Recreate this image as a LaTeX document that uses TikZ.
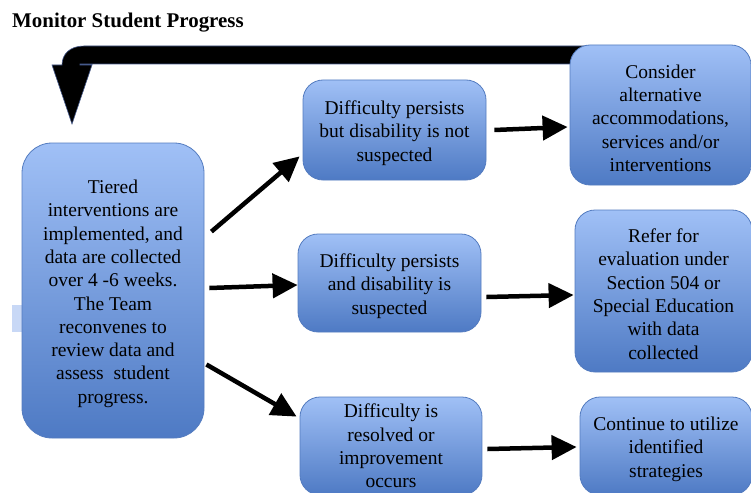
\documentclass[tikz,border=0pt]{standalone}
\usepackage{fontspec}
\setmainfont{Liberation Serif}
\usetikzlibrary{arrows.meta,calc}
\definecolor{boxtop}{RGB}{160,192,246}
\definecolor{boxbot}{RGB}{78,122,196}
\definecolor{boxline}{RGB}{84,124,192}
\definecolor{ghost}{RGB}{200,216,246}
\definecolor{arrline}{RGB}{70,90,140}
\newcommand{\topstrut}{\rule{0pt}{20pt}}
\tikzset{
  stepbox/.style={draw=boxline, line width=0.8pt, rounded corners=20pt,
    top color=boxtop, bottom color=boxbot, align=center,
    inner sep=0pt, text=black,
    font=\fontsize{19.5}{23.3}\selectfont},
  bigbox/.style={stepbox, rounded corners=30pt},
  arr/.style={line width=4.5pt, draw=black,
    -{Triangle[length=25pt,width=24pt]}},
}
\begin{document}
\begin{tikzpicture}[x=1pt,y=-1pt]
\useasboundingbox (0,0) rectangle (751,492);
\clip (0,0) rectangle (751,492);
\fill[white] (0,0) rectangle (751,492);
% title
\node[anchor=base west, inner sep=0pt, font=\fontsize{20.9}{24}\selectfont\bfseries] (title) at (12,28) {Monitor Student Progress};
% ghost rectangle
\fill[ghost] (12,305) rectangle (24,332);
% big return arrow
\filldraw[fill=black, draw=arrline, line width=0.6pt]
  (600,46) -- (84,46) .. controls (70,46) and (62,54) .. (62,65)
  -- (52,65) -- (72,124) -- (92,65) -- (80,65) -- (80,64) -- (600,64) -- cycle;
% boxes
\node[bigbox, minimum width=182pt, minimum height=295pt] (L) at (113,290.5)
  {\topstrut Tiered\\interventions are\\implemented, and\\data are collected\\over 4 -6 weeks.\\The Team\\reconvenes to\\review data and\\assess\ \ student\\progress.};
\node[stepbox, minimum width=183pt, minimum height=100pt] (A) at (394.5,130)
  {\topstrut Difficulty persists\\but disability is not\\suspected};
\node[stepbox, minimum width=183pt, minimum height=98pt] (B) at (389.5,283)
  {\topstrut Difficulty persists\\and disability is\\suspected};
\node[stepbox, minimum width=182pt, minimum height=98pt] (C) at (391,446)
  {Difficulty is\\resolved or\\improvement\\occurs};
\node[stepbox, minimum width=181pt, minimum height=140pt] (D) at (660.5,115)
  {\topstrut Consider\\alternative\\accommodations,\\services and/or\\interventions};
\node[stepbox, minimum width=177pt, minimum height=162pt] (E) at (663.5,291)
  {\topstrut Refer for\\evaluation under\\Section 504 or\\Special Education\\with data\\collected};
\node[stepbox, minimum width=172pt, minimum height=98pt] (F) at (666,446)
  {\topstrut Continue to utilize\\identified\\strategies};
% connectors
\draw[arr] ($(L.north east)+(7,89)$) -- ($(A.south west)+(-3,-24)$);
\draw[arr] ($(L.east)+(5,-2.5)$) -- ($(B.west)+(0,2)$);
\draw[arr] ($(L.east)+(2,74)$) -- ($(C.north west)+(-3,20)$);
\draw[arr] ($(A.east)+(8,0)$) -- ($(D.west)+(-2,12)$);
\draw[arr] ($(B.east)+(5,14)$) -- ($(E.west)+(-1,4)$);
\draw[arr] ($(C.east)+(5,3)$) -- ($(F.west)+(-3,1)$);
\end{tikzpicture}
\end{document}
